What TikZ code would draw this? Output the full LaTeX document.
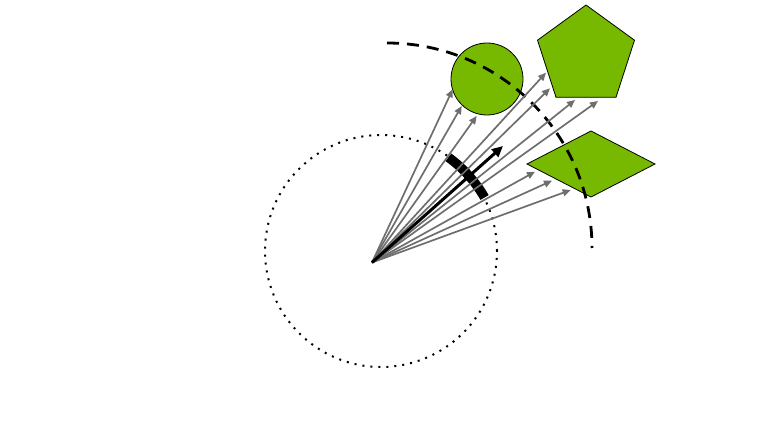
\documentclass[tikz,border=0pt]{standalone}
\usetikzlibrary{arrows.meta,shapes.geometric}
\definecolor{leaf}{HTML}{76B900}
\definecolor{raygray}{HTML}{6E6E6E}
\tikzset{
  shapefill/.style={draw=black, line width=0.8pt, fill=leaf},
  rayarrow/.style={draw=raygray, line width=1.7pt, -{Triangle[length=8pt,width=7pt]}},
  mainarrow/.style={draw=black, line width=3pt, -{Triangle[length=11pt,width=10pt]}},
  sweeparc/.style={draw=black, line width=9.5pt},
  horizonline/.style={draw=black, line width=2.8pt, dash pattern=on 12pt off 8pt},
  rangecircle/.style={draw=black, line width=2pt, dash pattern=on 2pt off 6pt}
}
\begin{document}
\begin{tikzpicture}[x=1pt,y=-1pt]
\useasboundingbox (0,0) rectangle (765,430);
% shapes
\node[circle, shapefill, minimum size=72pt, inner sep=0pt] (ball) at (487,79) {};
\draw[shapefill] (586,5) -- (634.5,40.2) -- (616,97.3) -- (556,97.3) -- (537.5,40.2) -- cycle;
\draw[shapefill] (527,164) -- (591,131) -- (655,164) -- (591,197) -- cycle;
% origin and targets
\coordinate (O) at (372,262.5);
\coordinate (t1) at (452.7,89.3);
\coordinate (t2) at (461.7,106);
\coordinate (t3) at (476.7,116);
\coordinate (t4) at (546,72.7);
\coordinate (t5) at (550,88.3);
\coordinate (t6) at (575,100);
\coordinate (t7) at (598,101);
\coordinate (t8) at (535,171.7);
\coordinate (t9) at (552,180.7);
\coordinate (t10) at (570.7,190);
\coordinate (tm) at (503,146);
% dashed arc
\draw[horizonline] (387,43) arc[start angle=90, end angle=0, radius=205pt];
% dotted circle
\draw[rangecircle] (381,251) circle[radius=116pt];
% sweep arc
\draw[sweeparc] ([shift={(54:130pt)}]O) arc[start angle=54, end angle=30, radius=130pt];
% rays
\foreach \t in {t1,t2,t3,t4,t5,t6,t7,t8,t9,t10}
  \draw[rayarrow] (O) -- (\t);
\draw[mainarrow] (O) -- (tm);
\end{tikzpicture}
\end{document}
